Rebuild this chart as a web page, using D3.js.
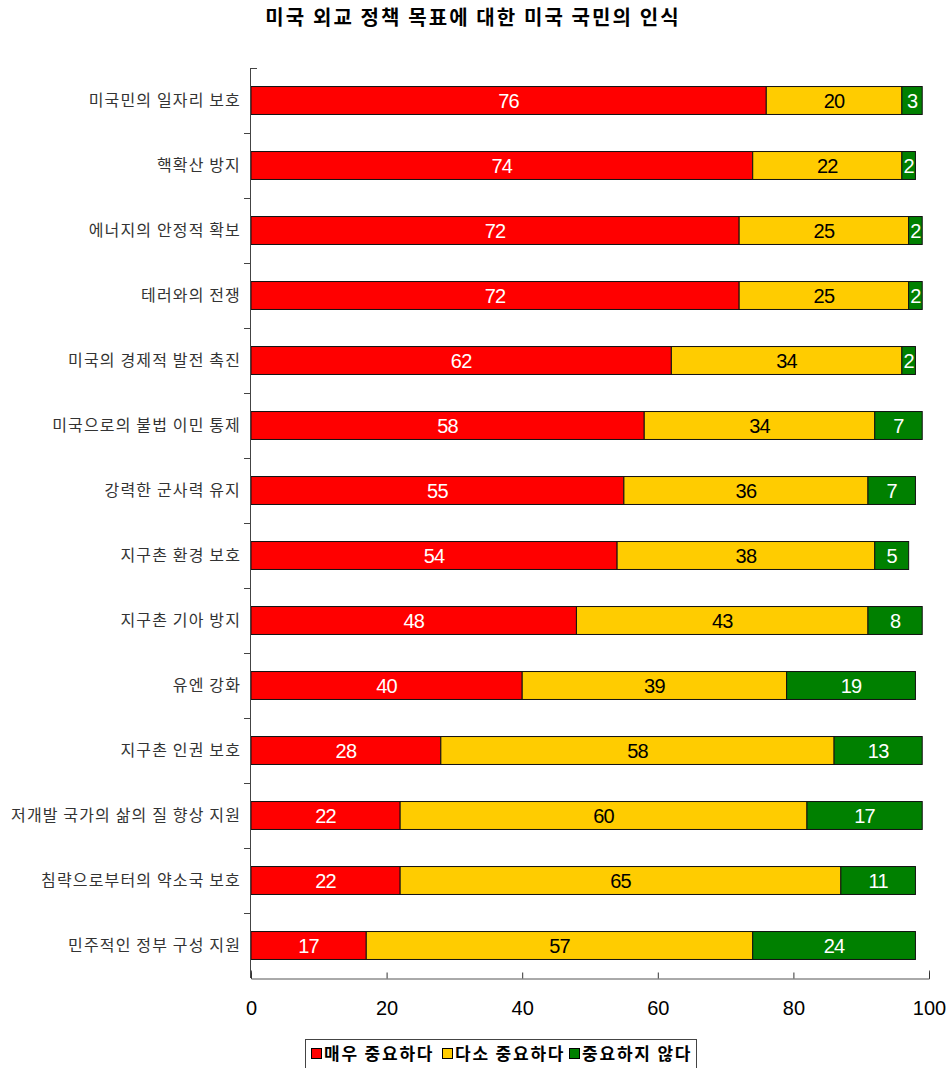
<!DOCTYPE html>
<html><head><meta charset="utf-8">
<script src="https://cdn.jsdelivr.net/npm/d3@7"></script>
<style>body{margin:0;background:#fff;}svg{display:block;}</style>
</head><body><svg id="c" width="948" height="1068"></svg>
<script>
const title = "미국 외교 정책 목표에 대한 미국 국민의 인식";
const categories = ["미국민의 일자리 보호","핵확산 방지","에너지의 안정적 확보","테러와의 전쟁","미국의 경제적 발전 촉진","미국으로의 불법 이민 통제","강력한 군사력 유지","지구촌 환경 보호","지구촌 기아 방지","유엔 강화","지구촌 인권 보호","저개발 국가의 삶의 질 향상 지원","침략으로부터의 약소국 보호","민주적인 정부 구성 지원"];
const seriesNames = ["매우 중요하다","다소 중요하다","중요하지 않다"];
const veryImportant = [76,74,72,72,62,58,55,54,48,40,28,22,22,17];
const somewhatImportant = [20,22,25,25,34,34,36,38,43,39,58,60,65,57];
const notImportant = [3,2,2,2,2,7,7,5,8,19,13,17,11,24];
const xTicks = [0,20,40,60,80,100];
const colors = ["#ff0000","#ffcc00","#008000"];
const labelColors = ["#fff","#000","#fff"];

const svg = d3.select("#c");
const x = d3.scaleLinear().domain([0,100]).range([251,929]);
const y = d3.scaleBand().domain(categories).range([68,978]).paddingInner(0.57).paddingOuter(0.285);

svg.append("text").attr("x",473).attr("y",25).attr("text-anchor","middle")
  .attr("font-family","'Noto Sans CJK KR'").attr("font-weight","bold").attr("font-size",20)
  .attr("letter-spacing","2.1").text(title);

const series = [veryImportant, somewhatImportant, notImportant];
const rows = categories.map((c,i)=>({c, v:series.map(s=>s[i])}));
const stack = d3.stack().keys([0,1,2]).value((d,k)=>d.v[k]);
const stacked = stack(rows);

stacked.forEach((layer,k)=>{
  const g = svg.append("g");
  g.selectAll("rect").data(layer).join("rect")
    .attr("x",d=>x(d[0])).attr("y",d=>y(d.data.c))
    .attr("width",d=>x(d[1])-x(d[0])).attr("height",y.bandwidth())
    .attr("fill",colors[k]).attr("stroke","#111").attr("stroke-width",1);
  g.selectAll("text").data(layer).join("text")
    .attr("x",d=>(x(d[0])+x(d[1]))/2).attr("y",d=>y(d.data.c)+y.bandwidth()/2)
    .attr("dy","0.36em").attr("text-anchor","middle")
    .attr("font-family","'Liberation Sans', Arial, sans-serif").attr("font-size",20)
    .attr("letter-spacing","-0.8").attr("fill",labelColors[k]).text(d=>d.data.v[k]);
});

// y axis
const yax = svg.append("g");
yax.append("line").attr("x1",250.5).attr("x2",250.5).attr("y1",68).attr("y2",978).attr("stroke","#444");
yax.append("line").attr("x1",250.5).attr("x2",257).attr("y1",68.5).attr("y2",68.5).attr("stroke","#444");
yax.selectAll("line.t").data(categories.slice(1)).join("line").attr("class","t")
  .attr("x1",244).attr("x2",251)
  .attr("y1",d=>Math.round(y(d)-y.step()*y.paddingInner()/2)+0.5)
  .attr("y2",d=>Math.round(y(d)-y.step()*y.paddingInner()/2)+0.5).attr("stroke","#444");
yax.selectAll("text").data(categories).join("text")
  .attr("x",241).attr("y",d=>y(d)+y.bandwidth()/2).attr("dy","0.35em").attr("text-anchor","end")
  .attr("font-family","'Noto Sans CJK KR'").attr("font-size",16).attr("letter-spacing","1.15")
  .attr("fill","#333").text(d=>d);

// x axis
const xa = svg.append("g").attr("transform","translate(0,978.5)")
  .call(d3.axisBottom(x).tickValues(xTicks).tickSizeInner(-6).tickSizeOuter(-8).tickPadding(22));
xa.select(".domain").attr("stroke","#555");
xa.selectAll(".tick line").attr("stroke","#333");
xa.selectAll(".tick text").attr("font-family","'Liberation Sans', Arial, sans-serif").attr("font-size",20).attr("fill","#000");

// legend
const lg = svg.append("g");
lg.append("rect").attr("x",305.5).attr("y",1039.5).attr("width",391).attr("height",40).attr("fill","#fff").attr("stroke","#444");
const lx = [311,442,569];
seriesNames.forEach((n,k)=>{
  lg.append("rect").attr("x",lx[k]+0.5).attr("y",1048.5).attr("width",10).attr("height",10)
    .attr("fill",colors[k]).attr("stroke","#000");
  lg.append("text").attr("x",lx[k]+13).attr("y",1054).attr("dy","0.36em")
    .attr("font-family","'Noto Sans CJK KR'").attr("font-weight","bold").attr("font-size",17)
    .attr("letter-spacing","1.8").text(n);
});
</script></body></html>
